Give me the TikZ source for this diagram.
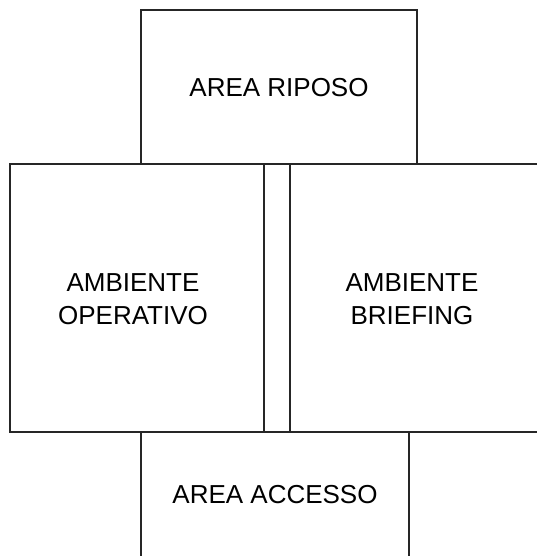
\documentclass[tikz,border=0pt]{standalone}
\usepackage{fontspec}
\setmainfont{Liberation Sans}
\usetikzlibrary{calc}

\begin{document}
\begin{tikzpicture}[x=1pt,y=-1pt,
	wall/.style={line width=2.2pt,draw=black!85},
	room/.style={align=center,font=\fontsize{26}{33}\selectfont}]
					\useasboundingbox (0,0) rectangle (537,556);
					\draw[wall]  (141,10) rectangle (417,164);
					\draw[wall]  (10,164) rectangle (264,432);
					\draw[wall]  (264,164) rectangle (290,432);
					\draw[wall]  (290,164) -- (537,164);
					\draw[wall]  (290,432) -- (537,432);
					\draw[wall]  (141,556) -- (141,432);
					\draw[wall]  (409,432) -- (409,556);
					\node[room] (riposo) at (279,88) {AREA RIPOSO};
					\node[room] (operativo) at (133,299) {AMBIENTE\\OPERATIVO};
					\node[room] (briefing) at (412,299) {AMBIENTE\\BRIEFING};
					\node[room] (accesso) at (275,495) {AREA ACCESSO};
				\end{tikzpicture}
\end{document}
